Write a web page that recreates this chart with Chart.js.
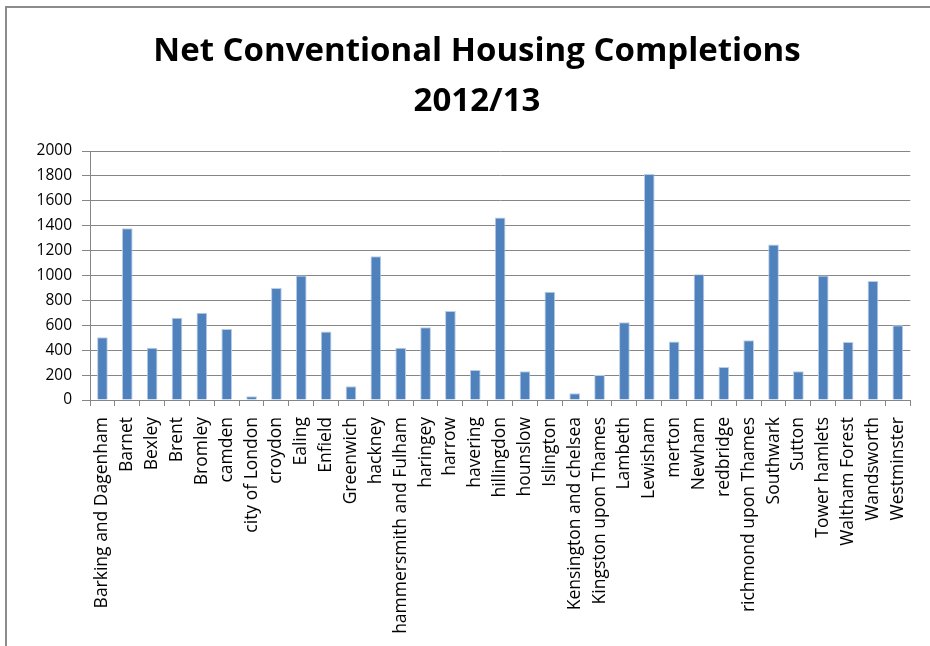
<!DOCTYPE html>
<html>
<head>
<meta charset="utf-8">
<title>Net Conventional Housing Completions 2012/13</title>
<script src="https://cdn.jsdelivr.net/npm/chart.js@4/dist/chart.umd.min.js"></script>
<style>
    body { margin: 0; background: #fff; overflow: hidden; }
    #wrap { position: relative; width: 930px; height: 646px; }
    #frame {
        position: absolute; left: 5px; top: 6px; width: 940px; height: 660px;
        border-left: 2px solid #8c8c8c; border-top: 2px solid #8c8c8c;
    }
    #chart { position: absolute; left: 0; top: 0; }
</style>
</head>
<body>
<div id="wrap">
    <div id="frame"></div>
    <canvas id="chart" width="930" height="646"></canvas>
</div>
<script>
const boroughs = [
    'Barking and Dagenham', 'Barnet', 'Bexley', 'Brent', 'Bromley', 'camden',
    'city of London', 'croydon', 'Ealing', 'Enfield', 'Greenwich', 'hackney',
    'hammersmith and Fulham', 'haringey', 'harrow', 'havering', 'hillingdon',
    'hounslow', 'Islington', 'Kensington and chelsea', 'Kingston upon Thames',
    'Lambeth', 'Lewisham', 'merton', 'Newham', 'redbridge', 'richmond upon Thames',
    'Southwark', 'Sutton', 'Tower hamlets', 'Waltham Forest', 'Wandsworth', 'Westminster'
];

const completions = [
    505, 1380, 420, 660, 700, 570,
    30, 900, 1000, 550, 110, 1155,
    420, 585, 715, 240, 1465,
    230, 870, 55, 200,
    625, 1815, 470, 1010, 265, 480,
    1250, 230, 1000, 465, 955, 600
];

const titleLines = ['Net Conventional Housing Completions', '2012/13'];
const yTicks = { min: 0, max: 2000, step: 200 };

const fontFamily = '"Open Sans", "DejaVu Sans", sans-serif';
const axisGrey = '#868686';

new Chart(document.getElementById('chart'), {
    type: 'bar',
    data: {
        labels: boroughs,
        datasets: [{
            data: completions,
            backgroundColor: '#4f81bd',
            borderColor: '#b9cde5',
            borderWidth: 1,
            borderSkipped: 'bottom',
            categoryPercentage: 1,
            barPercentage: 0.43
        }]
    },
    options: {
        responsive: false,
        devicePixelRatio: 1,
        animation: false,
        // left padding nudges the title to the right; the y axis width makes up the rest
        layout: { padding: { left: 36, right: 12, top: 0, bottom: 0 } },
        plugins: {
            legend: { display: false },
            tooltip: { enabled: false },
            title: {
                display: true,
                text: titleLines,
                color: '#000',
                font: { family: fontFamily, size: 33, weight: 'bold', lineHeight: 1.5 },
                padding: { top: 27, bottom: 25 }
            }
        },
        scales: {
            x: {
                grid: {
                    display: true,
                    offset: true,
                    drawOnChartArea: false,
                    drawTicks: true,
                    tickLength: 6,
                    color: axisGrey
                },
                border: { display: true, color: axisGrey, width: 1 },
                ticks: {
                    autoSkip: false,
                    minRotation: 90,
                    maxRotation: 90,
                    padding: 11,
                    color: '#000',
                    font: { family: fontFamily, size: 17.5 }
                },
                afterFit(scale) { scale.height = 246; }
            },
            y: {
                min: yTicks.min,
                max: yTicks.max,
                grid: {
                    color: axisGrey,
                    lineWidth: 1,
                    drawTicks: true,
                    tickLength: 8
                },
                border: { display: true, color: axisGrey, width: 1 },
                ticks: {
                    stepSize: yTicks.step,
                    padding: 10,
                    color: '#000',
                    font: { family: fontFamily, size: 15.5 },
                    callback: value => String(value)
                },
                afterFit(scale) { scale.width = 54; }
            }
        }
    }
});
</script>
</body>
</html>
